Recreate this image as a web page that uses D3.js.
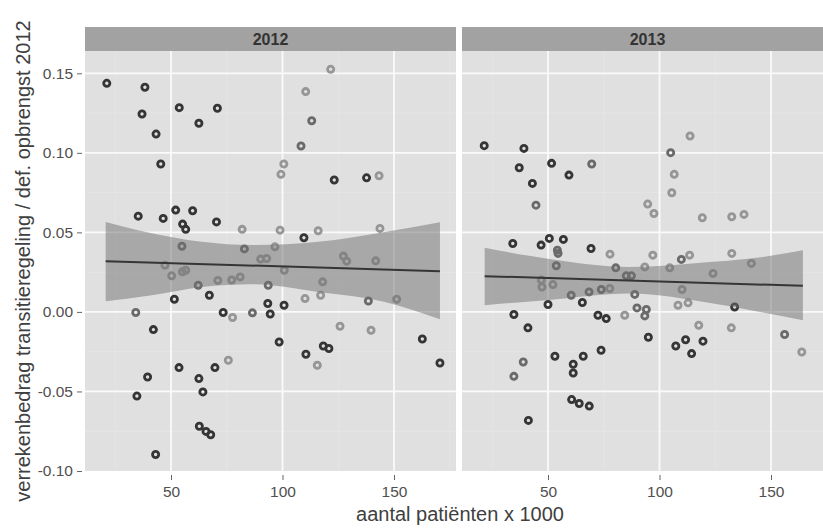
<!DOCTYPE html>
<html>
<head>
<meta charset="utf-8">
<script src="https://cdn.jsdelivr.net/npm/d3@7"></script>
<style>
  body { margin: 0; background: #fff; }
  svg { display: block; font-family: "Liberation Sans", Arial, sans-serif; }
  .tick text { fill: #505050; font-size: 15.5px; }
  .tick line { stroke: #666; }
</style>
</head>
<body>
<svg id="chart" width="823" height="528"></svg>
<script>
// facets
const years = ["2012", "2013"];

// 2012 — x = aantal patiënten (x1000), y = verrekenbedrag / opbrengst, shade 0 dark, 1 mid, 2 light
const x2012 = [21.2, 38.3, 37.0, 53.7, 70.8, 62.5, 43.3, 45.4, 110.4, 121.6, 113.1, 108.3, 100.6, 99.3, 123.2, 137.7,
  143.3, 35.3, 46.5, 52.1, 59.7, 55.2, 56.6, 70.4, 81.9, 98.9, 116.0, 109.6, 143.7, 54.9, 82.9, 96.6, 127.3, 128.8,
  141.8, 90.2, 92.9, 47.3, 56.6, 55.1, 50.3, 100.8, 62.2, 71.0, 77.2, 81.0, 93.6, 118.0, 117.1, 110.1, 138.5, 151.2,
  51.5, 67.2, 93.4, 100.7, 94.5, 34.2, 73.4, 77.6, 86.5, 125.8, 139.7, 42.1, 162.7, 170.6, 98.5, 110.5, 118.3, 120.8,
  115.6, 75.7, 69.7, 53.6, 39.5, 62.5, 64.3, 34.7, 62.7, 65.7, 67.8, 43.1];
const y2012 = [0.1437, 0.1412, 0.1244, 0.1284, 0.1280, 0.1186, 0.1118, 0.0930, 0.1385, 0.1525, 0.1202, 0.1043, 0.0930,
  0.0865, 0.0829, 0.0843, 0.0856, 0.0602, 0.0588, 0.0640, 0.0636, 0.0552, 0.0519, 0.0566, 0.0519, 0.0514, 0.0510,
  0.0466, 0.0525, 0.0413, 0.0396, 0.0409, 0.0351, 0.0319, 0.0321, 0.0332, 0.0336, 0.0294, 0.0262, 0.0252, 0.0227,
  0.0262, 0.0168, 0.0198, 0.0201, 0.0220, 0.0168, 0.0189, 0.0105, 0.0084, 0.0069, 0.0080, 0.0080, 0.0105, 0.0053,
  0.0042, -0.0013, -0.0004, -0.0004, -0.0035, -0.0006, -0.0090, -0.0115, -0.0111, -0.0170, -0.0321, -0.0189, -0.0266,
  -0.0214, -0.0230, -0.0335, -0.0304, -0.0350, -0.0350, -0.0409, -0.0419, -0.0503, -0.0529, -0.0719, -0.0751, -0.0772,
  -0.0896];
const shade2012 = [0, 0, 0, 0, 0, 0, 0, 0, 2, 2, 1, 1, 2, 2, 0, 0, 2, 0, 0, 0, 0, 0, 0, 0, 2, 2, 2, 0, 2, 1, 1, 2, 2, 2,
  2, 2, 2, 2, 2, 2, 2, 2, 1, 2, 2, 2, 1, 2, 2, 2, 1, 2, 0, 0, 0, 0, 0, 1, 0, 2, 1, 2, 2, 0, 0, 0, 0, 0, 0, 0, 2, 2, 0,
  0, 0, 0, 0, 0, 0, 0, 0, 0];

// 2013
const x2013 = [21.4, 39.2, 37.1, 51.6, 59.4, 43.0, 44.6, 69.6, 113.7, 105.0, 106.6, 105.5, 94.7, 97.5, 119.2, 132.4,
  137.9, 34.2, 46.9, 50.6, 56.9, 69.3, 77.8, 97.0, 109.8, 113.5, 132.4, 54.2, 54.5, 53.7, 80.4, 93.4, 104.6, 124.0,
  141.2, 85.1, 87.4, 47.0, 47.3, 52.2, 60.4, 68.4, 73.9, 77.7, 88.9, 110.1, 108.3, 112.8, 133.7, 50.0, 65.4, 34.7,
  41.0, 72.4, 76.1, 84.4, 89.9, 94.1, 93.4, 117.6, 132.2, 156.1, 95.0, 107.3, 111.7, 114.4, 119.5, 163.8, 53.1, 65.8,
  73.8, 61.3, 61.3, 38.9, 34.7, 60.6, 64.0, 68.5, 41.2];
const y2013 = [0.1045, 0.1028, 0.0906, 0.0934, 0.0860, 0.0808, 0.0671, 0.0930, 0.1106, 0.1001, 0.0865, 0.0749, 0.0678,
  0.0619, 0.0592, 0.0598, 0.0613, 0.0430, 0.0420, 0.0462, 0.0456, 0.0399, 0.0363, 0.0357, 0.0330, 0.0357, 0.0368,
  0.0388, 0.0368, 0.0290, 0.0277, 0.0283, 0.0277, 0.0242, 0.0305, 0.0227, 0.0227, 0.0200, 0.0157, 0.0172, 0.0105,
  0.0126, 0.0141, 0.0147, 0.0110, 0.0141, 0.0042, 0.0057, 0.0031, 0.0047, 0.0059, -0.0016, -0.0100, -0.0021, -0.0042,
  -0.0021, 0.0025, 0.0015, -0.0025, -0.0084, -0.0100, -0.0142, -0.0159, -0.0214, -0.0175, -0.0262, -0.0184, -0.0252,
  -0.0279, -0.0279, -0.0241, -0.0329, -0.0384, -0.0315, -0.0405, -0.0551, -0.0576, -0.0592, -0.0682];
const shade2013 = [0, 0, 0, 0, 0, 0, 1, 1, 2, 1, 2, 2, 2, 2, 2, 2, 2, 0, 0, 0, 0, 0, 2, 2, 1, 2, 2, 1, 1, 1, 1, 2, 2, 2,
  2, 1, 1, 2, 2, 2, 1, 1, 1, 2, 1, 2, 2, 2, 0, 0, 0, 0, 0, 0, 0, 2, 1, 1, 1, 2, 2, 1, 0, 0, 0, 0, 0, 2, 0, 0, 0, 0, 0,
  1, 1, 0, 0, 0, 0];

const bandX2012  = [20.7, 41.3, 63.8, 86.2, 116.0, 146.0, 170.6];
const bandLo2012 = [0.0067, 0.0105, 0.0157, 0.0174, 0.0126, 0.0063, -0.0046];
const bandHi2012 = [0.0566, 0.0495, 0.0441, 0.0420, 0.0441, 0.0503, 0.0563];
const fitX2012 = [20.7, 170.6];
const fitY2012 = [0.0319, 0.0256];

const bandX2013  = [21.6, 49.1, 86.6, 124.0, 146.4, 164.3];
const bandLo2013 = [0.0042, 0.0074, 0.0116, 0.0053, -0.0004, -0.0052];
const bandHi2013 = [0.0403, 0.0336, 0.0283, 0.0315, 0.0346, 0.0388];
const fitX2013 = [21.6, 164.3];
const fitY2013 = [0.0225, 0.0164];

// ticks
const xTicks = [50, 100, 150];
const xMinor = [25, 75, 125, 175];
const yTicks = [-0.10, -0.05, 0.00, 0.05, 0.10, 0.15];
const yMinor = [-0.075, -0.025, 0.025, 0.075, 0.125];

// ── layout ───────────────────────────────
const panelX  = [85, 462];
const panelW  = 371;
const stripTop = 27, stripH = 24;
const panelTop = 51, panelBottom = 471;
const xDomain = [11.43, 177.8];

const svg = d3.select("#chart");

const y = d3.scaleLinear().domain([-0.10, 0.15]).range([471, 73.3]);
const shadeCol = d3.scaleOrdinal().domain([0, 1, 2]).range(["#353535", "#6a6a6a", "#969696"]);

const panels = [
  { xs: x2012, ys: y2012, sh: shade2012, bx: bandX2012, lo: bandLo2012, hi: bandHi2012, fx: fitX2012, fy: fitY2012 },
  { xs: x2013, ys: y2013, sh: shade2013, bx: bandX2013, lo: bandLo2013, hi: bandHi2013, fx: fitX2013, fy: fitY2013 }
];

panels.forEach((p, i) => {
  const x = d3.scaleLinear().domain(xDomain).range([panelX[i], panelX[i] + panelW]);
  const g = svg.append("g");

  // strip
  g.append("rect")
    .attr("x", panelX[i]).attr("y", stripTop)
    .attr("width", panelW).attr("height", stripH)
    .attr("fill", "#a2a2a2");
  g.append("text")
    .attr("x", panelX[i] + panelW / 2)
    .attr("y", stripTop + stripH / 2)
    .attr("dy", "0.36em")
    .attr("text-anchor", "middle")
    .attr("font-size", "16px").attr("font-weight", "bold")
    .attr("fill", "#333")
    .text(years[i]);

  // panel
  g.append("rect")
    .attr("x", panelX[i]).attr("y", panelTop)
    .attr("width", panelW).attr("height", panelBottom - panelTop)
    .attr("fill", "#e0e0e0");

  // grid
  g.selectAll(".vmin").data(xMinor.filter(v => x(v) > panelX[i] && x(v) < panelX[i] + panelW)).join("line")
    .attr("x1", d => x(d)).attr("x2", d => x(d))
    .attr("y1", panelTop).attr("y2", panelBottom)
    .attr("stroke", "#e9e9e9").attr("stroke-width", 0.6);
  g.selectAll(".hmin").data(yMinor).join("line")
    .attr("x1", panelX[i]).attr("x2", panelX[i] + panelW)
    .attr("y1", d => y(d)).attr("y2", d => y(d))
    .attr("stroke", "#e9e9e9").attr("stroke-width", 0.6);
  g.selectAll(".vmaj").data(xTicks).join("line")
    .attr("x1", d => x(d)).attr("x2", d => x(d))
    .attr("y1", panelTop).attr("y2", panelBottom)
    .attr("stroke", "#fafafa").attr("stroke-width", 1.8);
  g.selectAll(".hmaj").data(yTicks.filter(v => y(v) < panelBottom - 1)).join("line")
    .attr("x1", panelX[i]).attr("x2", panelX[i] + panelW)
    .attr("y1", d => y(d)).attr("y2", d => y(d))
    .attr("stroke", "#fafafa").attr("stroke-width", 1.8);

  // punten
  g.selectAll("circle").data(d3.range(p.xs.length)).join("circle")
    .attr("cx", k => x(p.xs[k]))
    .attr("cy", k => y(p.ys[k]))
    .attr("r", 3.1)
    .attr("fill", "none")
    .attr("stroke", k => shadeCol(p.sh[k]))
    .attr("stroke-width", 2.8);

  // band
  const area = d3.area()
    .x(k => x(p.bx[k]))
    .y0(k => y(p.lo[k]))
    .y1(k => y(p.hi[k]))
    .curve(d3.curveMonotoneX);
  g.append("path")
    .attr("d", area(d3.range(p.bx.length)))
    .attr("fill", "#707070").attr("fill-opacity", 0.5);

  // fit
  g.append("path")
    .attr("d", d3.line().x(k => x(p.fx[k])).y(k => y(p.fy[k]))(d3.range(p.fx.length)))
    .attr("fill", "none").attr("stroke", "#353535").attr("stroke-width", 2);

  // x-as
  const xa = svg.append("g")
    .attr("transform", `translate(0,${panelBottom + 4})`)
    .call(d3.axisBottom(x).tickValues(xTicks).tickSize(5).tickPadding(6).tickFormat(d3.format("d")));
  xa.select(".domain").remove();
});

// y-as
const ya = svg.append("g")
  .attr("transform", `translate(${panelX[0] - 3},0)`)
  .call(d3.axisLeft(y).tickValues(yTicks).tickSize(5).tickPadding(4).tickFormat(d => d.toFixed(2)));
ya.select(".domain").remove();

// titels
svg.append("text")
  .attr("x", 460).attr("y", 521)
  .attr("text-anchor", "middle")
  .attr("font-size", "20px").attr("fill", "#404040")
  .text("aantal patiënten x 1000");

svg.append("text")
  .attr("transform", "translate(30,261) rotate(-90)")
  .attr("text-anchor", "middle")
  .attr("font-size", "20px").attr("fill", "#404040")
  .text("verrekenbedrag transitieregeling / def. opbrengst 2012");
</script>
</body>
</html>
